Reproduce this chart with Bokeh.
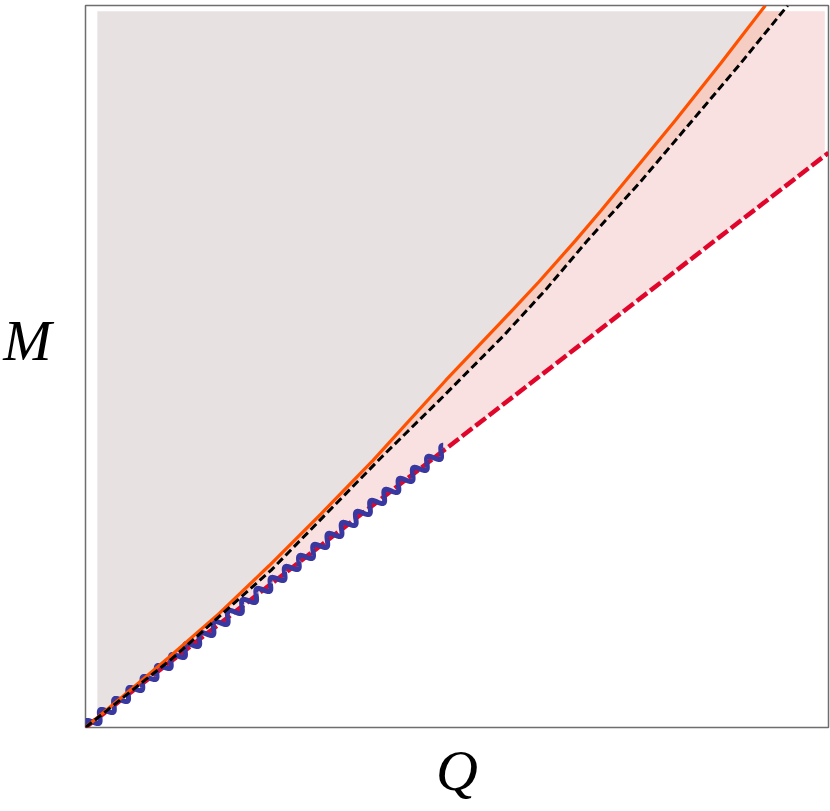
import numpy as np
from bokeh.plotting import figure
from bokeh.models import FixedTicker
from bokeh.embed import file_html
from bokeh.resources import INLINE

# ---- data (Q on x, M on y, both normalised 0..1) ----
orange_q = [0.0, 0.050, 0.112, 0.180, 0.247, 0.317, 0.387, 0.485, 0.559, 0.610, 0.660, 0.694, 0.794, 0.855, 0.915]
orange_m = [0.0, 0.043, 0.097, 0.158, 0.224, 0.296, 0.370, 0.481, 0.561, 0.617, 0.675, 0.716, 0.841, 0.920, 1.000]

black_q = [0.0, 0.116, 0.250, 0.398, 0.480, 0.563, 0.620, 0.676, 0.747, 0.817, 0.881, 0.945]
black_m = [0.0, 0.095, 0.218, 0.374, 0.457, 0.543, 0.607, 0.675, 0.756, 0.841, 0.919, 1.000]

red_q = [0.0, 1.0]
red_m = [0.0, 0.796]

wiggle_end_q = 0.485

# ---- figure ----
FW, FH = 744, 722   # frame size in px (used for the decorative wiggle)
p = figure(width=830, height=811, x_range=(0, 1), y_range=(0, 1),
           output_backend="svg", toolbar_location=None,
           min_border_left=84, min_border_right=2, min_border_top=5,
           min_border_bottom=84)
p.grid.visible = False
p.outline_line_color = "#6e6e6e"
p.outline_line_width = 1.5
p.background_fill_color = "white"

for ax in (p.xaxis[0], p.yaxis[0]):
    ax.ticker = FixedTicker(ticks=[])
    ax.axis_line_color = None
    ax.major_tick_line_color = None
    ax.minor_tick_line_color = None
    ax.major_label_text_font_size = "0px"
    ax.axis_label_text_font = "Liberation Serif"
    ax.axis_label_text_font_style = "italic"
    ax.axis_label_text_font_size = "58px"
    ax.axis_label_text_color = "black"
p.xaxis.axis_label = "Q"
p.xaxis.axis_label_standoff = 10
p.yaxis.axis_label = "M\n"
p.yaxis.axis_label_text_line_height = 0.8
p.yaxis.axis_label_orientation = "horizontal"
p.yaxis.axis_label_standoff = 34

oq = np.array(orange_q); om = np.array(orange_m)
bq = np.array(black_q); bm = np.array(black_m)

left_q, top_m, right_q = 0.016, 0.992, 0.995

# grey region (above orange curve)
q_top_orange = float(np.interp(top_m, om, oq))
m_left_orange = float(np.interp(left_q, oq, om))
gx = [left_q] + [q for q in orange_q if left_q < q < q_top_orange] + [q_top_orange, left_q]
gy = [m_left_orange] + [m for q, m in zip(orange_q, orange_m) if left_q < q < q_top_orange] + [top_m, top_m]
p.patch(gx, gy, fill_color="#e7e1e2", line_color=None)

# pink region (between orange curve and red dashed line)
red_at_right = float(np.interp(right_q, red_q, red_m))
px_ = [0.0, right_q, right_q, q_top_orange] + [q for q in orange_q[::-1] if q < q_top_orange]
py_ = [0.0, red_at_right, top_m, top_m] + [m for q, m in zip(orange_q[::-1], orange_m[::-1]) if q < q_top_orange]
p.patch(px_, py_, fill_color="#f9e1e1", line_color=None)

# salmon band between orange curve and black dashed curve
q_top_black = float(np.interp(top_m, bm, bq))
sx = list(orange_q[:-1]) + [q_top_orange, q_top_black] + [q for q in black_q[::-1] if q < q_top_black]
sy = list(orange_m[:-1]) + [top_m, top_m] + [m for q, m in zip(black_q[::-1], black_m[::-1]) if q < q_top_black]
p.patch(sx, sy, fill_color="#f6cdc3", line_color=None)

# red dashed line
p.line(red_q, red_m, line_color="#e0062b", line_width=4.5, line_dash="13 4")

# blue wiggle along the red line (decorative, pixel-space sine)
m_end = float(np.interp(wiggle_end_q, red_q, red_m))
dx, dy = wiggle_end_q * FW, m_end * FH
L = np.hypot(dx, dy)
s = np.linspace(0, L, 2000)
ux, uy = dx / L, dy / L
nx, ny = -uy, ux
amp, period = 5.0, 18.0
off = amp * np.sin(2 * np.pi * s / period)
wx = (s * ux + off * nx) / FW
wy = (s * uy + off * ny) / FH
p.line(wx, wy, line_color="#3838a0", line_width=5)

# orange solid curve and black dashed curve
p.line(orange_q, orange_m, line_color="#ff5200", line_width=3.2)
p.line(black_q, black_m, line_color="black", line_width=3, line_dash="8 4")

open("out.html", "w").write(file_html(p, INLINE))
